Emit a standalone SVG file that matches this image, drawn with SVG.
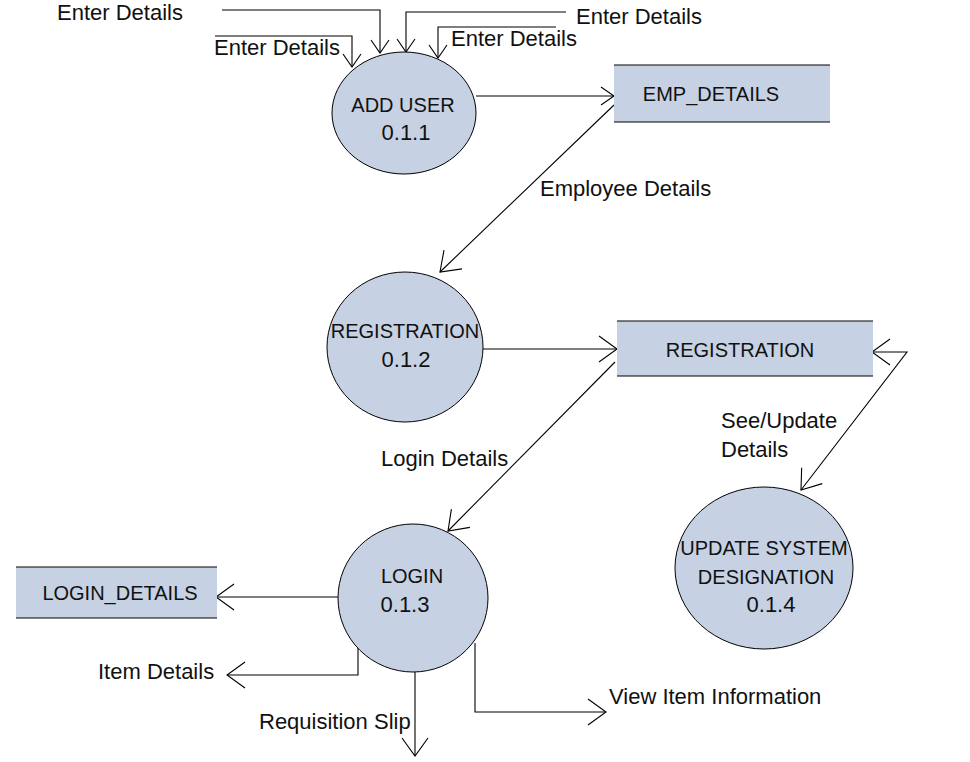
<svg xmlns="http://www.w3.org/2000/svg" width="970" height="762" viewBox="0 0 970 762">
<defs>
<style>
.proc{fill:#c6d1e3;stroke:#000;stroke-width:1}
.store{fill:#c6d1e3}
.edge{stroke:#000;stroke-width:1}
.t{font-family:"Liberation Sans",Arial,sans-serif;font-size:22px;fill:#111}
.u{font-size:20px}
.c{text-anchor:middle}
.flow{fill:none;stroke:#000;stroke-width:1.1}
</style>
<marker id="a" markerUnits="userSpaceOnUse" markerWidth="40" markerHeight="40" viewBox="-20 -20 40 40" refX="0" refY="0" orient="auto-start-reverse">
<path d="M-18,-13 L0,0 L-18,13" fill="none" stroke="#000" stroke-width="1.1"/>
</marker>
<marker id="s" markerUnits="userSpaceOnUse" markerWidth="30" markerHeight="30" viewBox="-15 -15 30 30" refX="0" refY="0" orient="auto">
<path d="M-13,-9 L0,0 L-13,9" fill="none" stroke="#000" stroke-width="1.1"/>
</marker>
</defs>
<rect width="970" height="762" fill="#fff"/>

<g id="connectors">
<path class="flow" d="M222,10 H380 V53" marker-end="url(#s)"/>
<path class="flow" d="M215,36 H352 V67" marker-end="url(#s)"/>
<path class="flow" d="M566,12 H406 V52" marker-end="url(#s)"/>
<path class="flow" d="M556,27 H438 V58" marker-end="url(#s)"/>
<path class="flow" d="M476,96 H614" marker-end="url(#s)"/>
<path class="flow" d="M614,105 L440,272" marker-end="url(#a)"/>
<path class="flow" d="M483,349 H617" marker-end="url(#a)"/>
<path class="flow" d="M615,362 L448,531" marker-end="url(#a)"/>
<path class="flow" d="M872,352 H907 L801,490" marker-start="url(#a)" marker-end="url(#a)"/>
<path class="flow" d="M338,597 H216" marker-end="url(#a)"/>
<path class="flow" d="M358,645 V675 H227" marker-end="url(#a)"/>
<path class="flow" d="M415,672 V756" marker-end="url(#a)"/>
<path class="flow" d="M475,643 V712 H606" marker-end="url(#a)"/>
<text class="t" x="57" y="20">Enter Details</text>
<text class="t" x="214" y="55">Enter Details</text>
<text class="t" x="576" y="24">Enter Details</text>
<text class="t" x="451" y="46">Enter Details</text>
<text class="t" x="540" y="196">Employee Details</text>
<text class="t" x="381" y="466">Login Details</text>
<text class="t" x="721" y="428">See/Update</text>
<text class="t" x="721" y="457">Details</text>
<text class="t" x="98" y="679">Item Details</text>
<text class="t" x="259" y="729">Requisition Slip</text>
<text class="t" x="609" y="704">View Item Information</text>
</g>

<g id="add-user">
<ellipse class="proc" cx="404" cy="113" rx="72" ry="61"/>
<text class="t u c" x="403" y="112">ADD USER</text>
<text class="t c" x="406" y="140">0.1.1</text>
</g>

<g id="emp-details">
<rect class="store" x="614" y="65" width="216" height="57"/>
<line class="edge" x1="614" y1="65" x2="830" y2="65"/>
<line class="edge" x1="614" y1="122" x2="830" y2="122"/>
<text class="t u c" x="711" y="101">EMP_DETAILS</text>
</g>

<g id="registration-process">
<ellipse class="proc" cx="405" cy="347" rx="78" ry="75"/>
<text class="t u c" x="405" y="338">REGISTRATION</text>
<text class="t c" x="406" y="367">0.1.2</text>
</g>

<g id="registration-store">
<rect class="store" x="617" y="321" width="256" height="55"/>
<line class="edge" x1="617" y1="321" x2="873" y2="321"/>
<line class="edge" x1="617" y1="376" x2="873" y2="376"/>
<text class="t u c" x="740" y="357">REGISTRATION</text>
</g>

<g id="login">
<ellipse class="proc" cx="413" cy="598" rx="75" ry="74"/>
<text class="t u c" x="412" y="583">LOGIN</text>
<text class="t c" x="405" y="612">0.1.3</text>
</g>

<g id="login-details">
<rect class="store" x="16" y="567" width="201" height="51"/>
<line class="edge" x1="16" y1="567" x2="217" y2="567"/>
<line class="edge" x1="16" y1="618" x2="217" y2="618"/>
<text class="t u c" x="120" y="600">LOGIN_DETAILS</text>
</g>

<g id="update-system">
<ellipse class="proc" cx="764" cy="568" rx="89" ry="81"/>
<text class="t u c" x="764" y="555">UPDATE SYSTEM</text>
<text class="t u c" x="766" y="584">DESIGNATION</text>
<text class="t c" x="771" y="612">0.1.4</text>
</g>
</svg>
